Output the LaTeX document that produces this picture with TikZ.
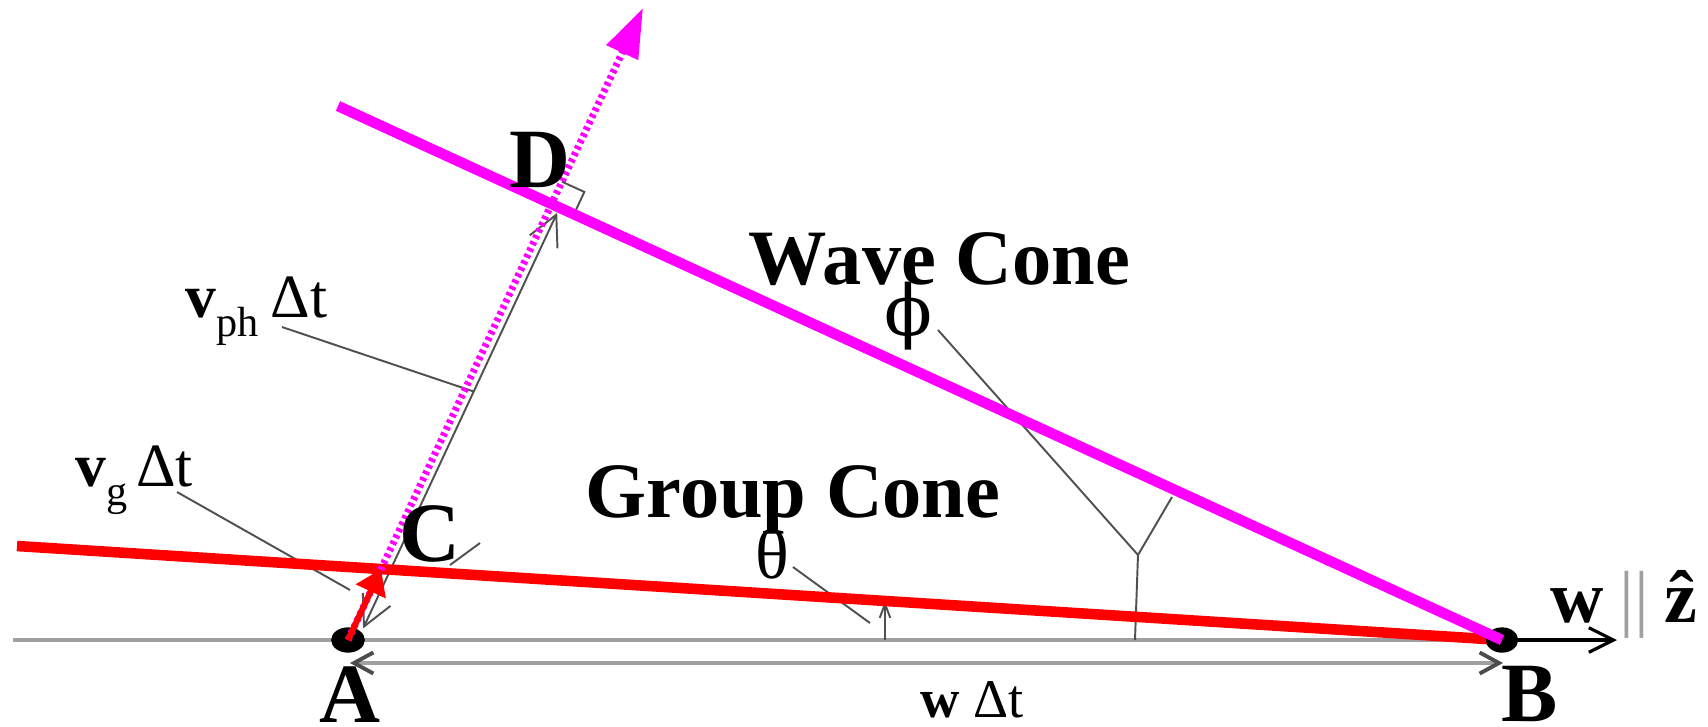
\documentclass[tikz,border=0pt]{standalone}
\usepackage{fontspec}
\setmainfont{Liberation Serif}
\newfontfamily\phifont{DejaVu Serif}
\usepackage{tikz}
\usetikzlibrary{arrows.meta, calc}
\definecolor{wavemag}{RGB}{255,0,255}
\definecolor{groupred}{RGB}{255,0,0}
\definecolor{axisgray}{RGB}{160,160,160}
\definecolor{leadgray}{RGB}{80,80,80}
\tikzset{
  pointlbl/.style={inner sep=0pt, font=\fontsize{24}{28}\selectfont\bfseries},
  conelbl/.style={inner sep=0pt, anchor=base west, font=\fontsize{22.3}{26}\selectfont\bfseries},
  qtylbl/.style={inner sep=0pt, anchor=base west, font=\fontsize{17.5}{21}\selectfont},
  anglbl/.style={inner sep=0pt, font=\fontsize{20}{24}\selectfont},
  front/.style={line width=3pt},
  axisline/.style={axisgray, line width=1.1pt},
  leader/.style={leadgray, line width=0.55pt},
  bigbarbs/.style={{Straight Barb[length=8.5pt, width=8.7pt]}-{Straight Barb[length=8.5pt, width=8.7pt]}},
  smallbarbs/.style={{Straight Barb[length=5.5pt, width=6pt, color=black!70]}-{Straight Barb[length=5.5pt, width=6pt, color=black!70]}},
}

\begin{document}
\begin{tikzpicture}[x=0.01cm, y=-0.01cm]
\useasboundingbox (0,0) rectangle (1708,726);

% points and line ends
\coordinate (A) at (348,640);
\coordinate (B) at (1502,640);
\coordinate (T) at (643,8);
\coordinate (gL) at (17,546);
\coordinate (kL) at (338,106);
\coordinate (axL) at (13,640);
\coordinate (axR) at (1617,640);
\coordinate (C) at (intersection of A--T and gL--B);
\coordinate (D) at (intersection of A--T and kL--B);

% axis and w dt
\draw[axisline] (axL) -- (B);
\draw[line width=0.9pt, -{Straight Barb[length=7pt, width=7pt]}] (B) -- (axR);
\coordinate (wL) at (350,663);
\coordinate (wR) at (1503,663);
\draw[axisline, smallbarbs] (wL) -- (wR);

% v_ph dt along AD
\coordinate (phA) at ($(A)!4.8pt!(T)!2.5pt!-90:(T)$);
\coordinate (phD) at ($(D)!1.6pt!(A)!2.5pt!90:(A)$);
\draw[leader, bigbarbs] (phA) -- (phD);
\coordinate (phLead) at (282,327);
\draw[leader] (phLead) -- ($(phA)!0.57!(phD)$);

% v_g dt leader and stub near C
\coordinate (gLead) at (177,492);
\coordinate (gEnd) at (350,590);
\draw[leader] (gLead) -- (gEnd);
\coordinate (cS1) at (450,565);
\coordinate (cS2) at (480,543);
\draw[leader] (cS1) -- (cS2);

% angle theta
\coordinate (thA) at (885,640);
\coordinate (thB) at (885,601);
\draw[leader, -{Straight Barb[length=4pt, width=3pt]}] (thA) -- (thB);
\coordinate (thLead) at (793,567);
\coordinate (thEnd) at (870,623);
\draw[leader] (thLead) -- (thEnd);

% angle phi
\coordinate (phiA) at (1135,640);
\coordinate (phiM) at (1138,555);
\coordinate (phiB) at (1172,497);
\draw[leader] (phiA) -- (phiM) -- (phiB);
\coordinate (phiLead) at (938,330);
\draw[leader] (phiLead) -- (phiM);

% right angle at D
\coordinate (Du) at ($(D)!7pt!(T)$);
\coordinate (Dv) at ($(D)!7pt!(B)$);
\draw[leader] (Du) -- ($(Du)+(Dv)-(D)$) -- (Dv);

% cones
\draw[front, groupred] (gL) -- (B);
\fill (A) ellipse [x radius=4.8pt, y radius=3.6pt];
\fill (B) ellipse [x radius=4.6pt, y radius=3.6pt];
\draw[front, wavemag] (kL) -- (B);
\draw[wavemag, line width=2pt, dash pattern=on 1pt off 1pt,
  -{Triangle[length=14pt, width=9.5pt]}] (A) -- (T);
\draw[groupred, line width=1.7pt, -{Triangle[length=7pt, width=9pt]}] (A) -- (C);

% labels
\node[pointlbl] (lblA) at (350,695) {A};
\node[pointlbl] (lblB) at (1530,694) {B};
\node[pointlbl] (lblC) at (430,534) {C};
\node[pointlbl] (lblD) at (540,160) {D};
\node[conelbl] (wave) at (748,284) {Wave Cone};
\node[conelbl] (group) at (585,517) {Group Cone};
\node[anglbl] (theta) at (772,554) {θ};
\node[anglbl, font=\phifont\fontsize{20}{24}\selectfont] (phi) at (908,316) {ϕ};
\node[qtylbl] (vph) at (185,317) {\textbf{v}\raisebox{-5.5pt}{\fontsize{12}{14}\selectfont ph}\hspace{3.5pt}Δt};
\node[qtylbl] (vg) at (75,486) {\textbf{v}\raisebox{-5.5pt}{\fontsize{12}{14}\selectfont g}\hspace{2.5pt}Δt};
\node[qtylbl, font=\fontsize{15.5}{18}\selectfont] (wdt) at (920,717) {\textbf{w} Δt};
\node[inner sep=0pt, anchor=base west, font=\fontsize{21}{25}\selectfont] (wz) at (1550,622)
  {\textbf{w}\hspace{4.5pt}\textcolor{axisgray}{||}\hspace{4.4pt}\textbf{\^{z}}};

\end{tikzpicture}
\end{document}
